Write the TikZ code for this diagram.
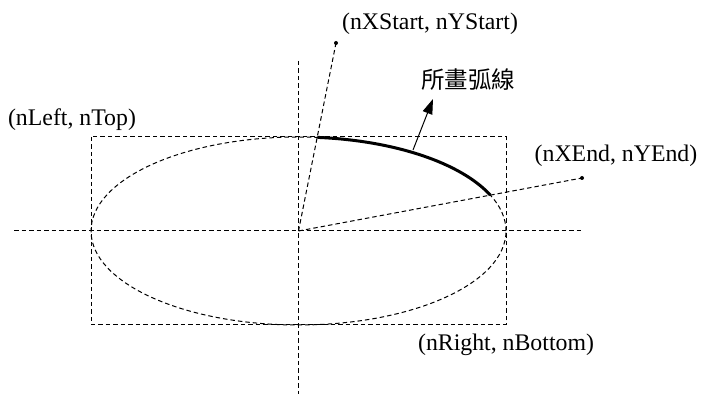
\documentclass[tikz,border=0pt]{standalone}
\usepackage{fontspec}
\setmainfont{Liberation Serif}
\newfontfamily\cjkfont{Noto Sans CJK TC}
\usetikzlibrary{arrows.meta,calc}

\begin{document}
\begin{tikzpicture}[x=1pt, y=1pt,
  guide/.style={draw, dash pattern=on 4.5pt off 3pt, line width=1pt},
  lbl/.style={font=\fontsize{23.8}{28}\selectfont, inner sep=0pt},
  cjklbl/.style={font=\cjkfont\fontsize{23.5}{27}\selectfont, inner sep=0pt},
  arrow/.style={-{Triangle[length=15pt, width=10pt]}, line width=1pt}
]
\useasboundingbox (0,0) rectangle (703,398);

% centre and bounding rectangle
\coordinate (ctr) at (298.5,167);
\coordinate (tl) at (91,261);
\coordinate (br) at (506,73);
\coordinate (xstart) at (336,355);
\coordinate (xend) at (582,220);

% axes
\coordinate (hl) at (14,167);
\coordinate (hr) at (581,167);
\coordinate (vt) at (298.5,337);
\coordinate (vb) at (298.5,4);
\draw[guide] (hl) -- (hr);
\draw[guide] (vt) -- (vb);

% rectangle and ellipse
\draw[guide] (tl) rectangle (br);
\draw[guide] (ctr) ellipse [x radius=207.5, y radius=94];

% radial lines
\draw[guide] (ctr) -- (xstart);
\draw[guide] (ctr) -- (xend);
\fill (xstart) circle (2pt);
\fill (xend) circle (2pt);

% drawn arc
\draw[line width=3pt] ($(ctr)+(84.77:207.5 and 94)$) coordinate (arcs)
  arc [start angle=84.77, end angle=22.46, x radius=207.5, y radius=94]
  coordinate (arce);

% labels
\node[lbl] (startlbl) at (430,374) {(nXStart, nYStart)};
\node[lbl] (topleft) at (72,278) {(nLeft, nTop)};
\node[lbl] (endlbl) at (616,242) {(nXEnd, nYEnd)};
\node[lbl] (botright) at (506,53) {(nRight, nBottom)};
\node[cjklbl] (arclbl) at (468,318) {所畫弧線};

\coordinate (arrtail) at (413,248);
\coordinate (arrtip) at (433,299);
\draw[arrow] (arrtail) -- (arrtip);

\end{tikzpicture}
\end{document}
